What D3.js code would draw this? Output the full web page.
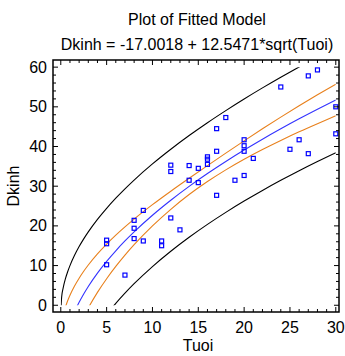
<!DOCTYPE html>
<html>
<head>
<meta charset="utf-8">
<script src="https://cdn.jsdelivr.net/npm/d3@7"></script>
<style>
  body { margin: 0; background: #fff; }
  svg { display: block; font-family: "Liberation Sans", Arial, sans-serif; }
</style>
</head>
<body>
<div id="chart"></div>
<script>
// observed points
const tuoi = [5, 5, 5, 7, 8, 8, 8, 9, 9, 11, 11, 12, 12, 12, 13, 14, 14, 15, 15, 16,
  16, 16, 17, 17, 17, 18, 19, 20, 20, 20, 20, 21, 24, 25, 26, 27, 27, 28, 30, 30];
const dkinh = [16.4, 15.5, 10.2, 7.6, 21.4, 19.4, 16.8, 23.9, 16.2, 16.2, 15.0, 35.3, 33.7, 22.0, 19.0, 35.2, 31.5, 34.5, 30.9, 37.4,
  36.8, 35.5, 44.5, 38.8, 27.7, 47.3, 31.5, 41.7, 40.2, 38.8, 32.7, 37.0, 55.0, 39.3, 41.7, 57.8, 38.2, 59.3, 50.0, 43.2];

// curves
const curveX = [0, 0.1, 0.25, 0.5, 0.75, 1, 1.5, 2, 2.5, 3, 4, 5, 6, 7, 8, 10, 12, 14, 16, 18, 20, 22, 24, 26, 28, 30];
const fitted = [-17.0, -13.03, -10.73, -8.13, -6.14, -4.46, -1.64, 0.74, 2.84, 4.73, 8.09, 11.05, 13.73, 16.2, 18.49,
  22.68, 26.46, 29.95, 33.19, 36.23, 39.11, 41.85, 44.47, 46.98, 49.39, 51.72];
const confUpper = [-7.83, -4.56, -2.66, -0.52, 1.13, 2.52, 4.85, 6.82, 8.56, 10.14, 12.94, 15.42, 17.67, 19.76, 21.72,
  25.35, 28.74, 32.0, 35.19, 38.34, 41.43, 44.46, 47.41, 50.26, 53.03, 55.71];
const confLower = [-26.17, -21.5, -18.8, -15.74, -13.41, -11.43, -8.13, -5.34, -2.89, -0.68, 3.24, 6.69, 9.79, 12.63, 15.26,
  20.0, 24.18, 27.9, 31.18, 34.12, 36.79, 39.24, 41.53, 43.7, 45.75, 47.73];
const predUpper = [-1.38, 2.19, 4.27, 6.63, 8.45, 9.99, 12.58, 14.78, 16.72, 18.49, 21.64, 24.43, 26.98, 29.34, 31.55,
  35.61, 39.31, 42.76, 46.0, 49.05, 51.97, 54.77, 57.46, 60.05, 62.55, 64.99];
const predLower = [-32.62, -28.25, -25.73, -22.89, -20.73, -18.9, -15.86, -13.3, -11.04, -9.03, -5.46, -2.33, 0.48, 3.05, 5.43,
  9.75, 13.61, 17.13, 20.38, 23.41, 26.25, 28.93, 31.48, 33.91, 36.23, 38.45];

const xTicks = [0, 5, 10, 15, 20, 25, 30];
const yTicks = [0, 10, 20, 30, 40, 50, 60];

const titleLines = ['Plot of Fitted Model', 'Dkinh = -17.0018 + 12.5471*sqrt(Tuoi)'];

const width = 345, height = 356;
const margin = { top: 60, right: 6, bottom: 44, left: 53 };

const svg = d3.select('#chart').append('svg')
  .attr('width', width)
  .attr('height', height);

const x = d3.scaleLinear().domain([-0.85, 30.35]).range([margin.left, width - margin.right]);
const y = d3.scaleLinear().domain([-1.7, 61.8]).range([height - margin.bottom, margin.top]);

// ---- title ----
svg.selectAll('.title')
  .data(titleLines)
  .enter()
  .append('text')
  .attr('class', 'title')
  .attr('x', 197)
  .attr('y', (d, i) => 25 + i * 25)
  .attr('text-anchor', 'middle')
  .attr('font-size', 16)
  .text(d => d);

// ---- clip to data range ----
svg.append('clipPath').attr('id', 'clip')
  .append('rect')
  .attr('x', x(0)).attr('y', y(60))
  .attr('width', x(30) - x(0)).attr('height', y(0) - y(60));

const line = d3.line()
  .x(d => x(d[0]))
  .y(d => y(d[1]))
  .curve(d3.curveMonotoneX);

const curves = [
  { vals: predUpper, color: '#000000' },
  { vals: predLower, color: '#000000' },
  { vals: confUpper, color: '#e8801c' },
  { vals: confLower, color: '#e8801c' },
  { vals: fitted, color: '#3333ff' }
];

const plot = svg.append('g').attr('clip-path', 'url(#clip)');
plot.selectAll('.curve')
  .data(curves)
  .enter()
  .append('path')
  .attr('class', 'curve')
  .attr('d', c => line(curveX.map((v, i) => [v, c.vals[i]])))
  .attr('fill', 'none')
  .attr('stroke', c => c.color)
  .attr('stroke-width', 1.1);

// ---- points ----
svg.selectAll('.pt')
  .data(tuoi.map((t, i) => [t, dkinh[i]]))
  .enter()
  .append('rect')
  .attr('class', 'pt')
  .attr('x', d => x(d[0]) - 2)
  .attr('y', d => y(d[1]) - 2)
  .attr('width', 4)
  .attr('height', 4)
  .attr('fill', 'none')
  .attr('stroke', '#0000ff')
  .attr('stroke-width', 1.2);

// ---- frame & ticks (inward on all sides) ----
const x0 = x.range()[0], x1 = x.range()[1];
const y0 = y.range()[0], y1 = y.range()[1];

svg.append('rect')
  .attr('x', x0).attr('y', y1)
  .attr('width', x1 - x0).attr('height', y0 - y1)
  .attr('fill', 'none')
  .attr('stroke', '#000')
  .attr('stroke-width', 1.5);

const ticks = svg.append('g').attr('stroke', '#000').attr('stroke-width', 1);
d3.range(0, 31, 1).forEach(v => {
  const len = v % 5 === 0 ? 5 : 3;
  ticks.append('line').attr('x1', x(v)).attr('x2', x(v)).attr('y1', y0).attr('y2', y0 - len);
  ticks.append('line').attr('x1', x(v)).attr('x2', x(v)).attr('y1', y1).attr('y2', y1 + len);
});
d3.range(0, 61, 2).forEach(v => {
  const len = v % 10 === 0 ? 5 : 3;
  ticks.append('line').attr('y1', y(v)).attr('y2', y(v)).attr('x1', x0).attr('x2', x0 + len);
  ticks.append('line').attr('y1', y(v)).attr('y2', y(v)).attr('x1', x1).attr('x2', x1 - len);
});

// tick labels
svg.selectAll('.xl')
  .data(xTicks)
  .enter()
  .append('text')
  .attr('class', 'xl')
  .attr('x', d => x(d))
  .attr('y', 333)
  .attr('text-anchor', 'middle')
  .attr('font-size', 16)
  .text(d => d);

svg.selectAll('.yl')
  .data(yTicks)
  .enter()
  .append('text')
  .attr('class', 'yl')
  .attr('x', 47)
  .attr('y', d => y(d))
  .attr('dy', '0.35em')
  .attr('text-anchor', 'end')
  .attr('font-size', 16)
  .text(d => d);

// axis titles
svg.append('text')
  .attr('x', 198)
  .attr('y', 351)
  .attr('text-anchor', 'middle')
  .attr('font-size', 16)
  .text('Tuoi');

svg.append('text')
  .attr('transform', 'translate(19, 186) rotate(-90)')
  .attr('text-anchor', 'middle')
  .attr('font-size', 16)
  .text('Dkinh');
</script>
</body>
</html>
